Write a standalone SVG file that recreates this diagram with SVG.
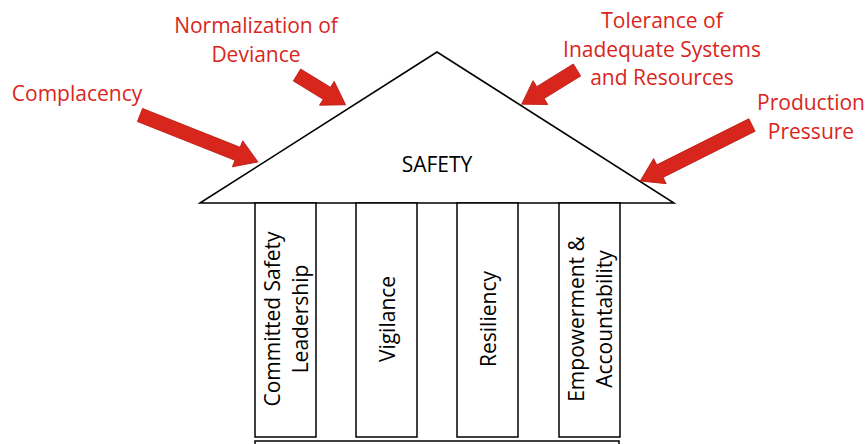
<svg xmlns="http://www.w3.org/2000/svg" width="868" height="444" viewBox="0 0 868 444">
  <style>
    .threat { font-family: "Open Sans", "Liberation Sans", sans-serif; font-size: 21px; fill: #d9261c; text-anchor: middle; }
    .label { font-family: "Open Sans", "Liberation Sans", sans-serif; font-size: 21px; fill: #000; text-anchor: middle; }
    .outline { fill: #fff; stroke: #000; stroke-width: 1.5; }
    .arrow { fill: #d9261c; stroke: #b81d15; stroke-width: 0.8; }
  </style>
  <rect width="868" height="444" fill="#fff"/>

  <!-- roof -->
  <g id="roof">
    <polygon class="outline" points="200,203 437,52 674,203"/>
    <text class="label" x="437" y="172">SAFETY</text>
  </g>

  <!-- pillars -->
  <g id="pillar-leadership">
    <rect class="outline" x="255" y="203" width="61" height="234"/>
    <text class="label" transform="translate(285.5,319) rotate(-90)"><tspan x="0" y="-6">Committed Safety</tspan><tspan x="0" y="22">Leadership</tspan></text>
  </g>
  <g id="pillar-vigilance">
    <rect class="outline" x="356" y="203" width="61" height="234"/>
    <text class="label" transform="translate(386.5,319) rotate(-90)" x="0" y="8">Vigilance</text>
  </g>
  <g id="pillar-resiliency">
    <rect class="outline" x="457" y="203" width="61" height="234"/>
    <text class="label" transform="translate(487.5,319) rotate(-90)" x="0" y="8">Resiliency</text>
  </g>
  <g id="pillar-empowerment">
    <rect class="outline" x="559" y="203" width="61" height="234"/>
    <text class="label" transform="translate(589.5,319) rotate(-90)"><tspan x="0" y="-6">Empowerment &amp;</tspan><tspan x="0" y="22">Accountability</tspan></text>
  </g>

  <!-- foundation -->
  <g id="foundation">
    <rect class="outline" x="255" y="441" width="364" height="10"/>
  </g>

  <!-- threat labels -->
  <g id="complacency">
    <text class="threat" x="77" y="101">Complacency</text>
  </g>
  <g id="normalization">
    <text class="threat" x="256" y="33">Normalization of</text>
    <text class="threat" x="256" y="62">Deviance</text>
  </g>
  <g id="tolerance">
    <text class="threat" x="662" y="28">Tolerance of</text>
    <text class="threat" x="662" y="57">Inadequate Systems</text>
    <text class="threat" x="662" y="85">and Resources</text>
  </g>
  <g id="production">
    <text class="threat" x="811" y="110">Production</text>
    <text class="threat" x="811" y="139">Pressure</text>
  </g>

  <!-- block arrows pressing on the roof -->
  <g id="connectors">
    <path class="arrow" transform="translate(140,115) rotate(21.7)" d="M0,-7 L105,-7 L105,-14 L127,0 L105,14 L105,7 L0,7 Z"/>
    <path class="arrow" transform="translate(297,75) rotate(31.5)" d="M0,-7 L35,-7 L35,-14 L57,0 L35,14 L35,7 L0,7 Z"/>
    <path class="arrow" transform="translate(577,70) rotate(148.3)" d="M0,-7 L43,-7 L43,-14 L65,0 L43,14 L43,7 L0,7 Z"/>
    <path class="arrow" transform="translate(752,125) rotate(153.4)" d="M0,-7 L103,-7 L103,-14 L125,0 L103,14 L103,7 L0,7 Z"/>
  </g>
</svg>
